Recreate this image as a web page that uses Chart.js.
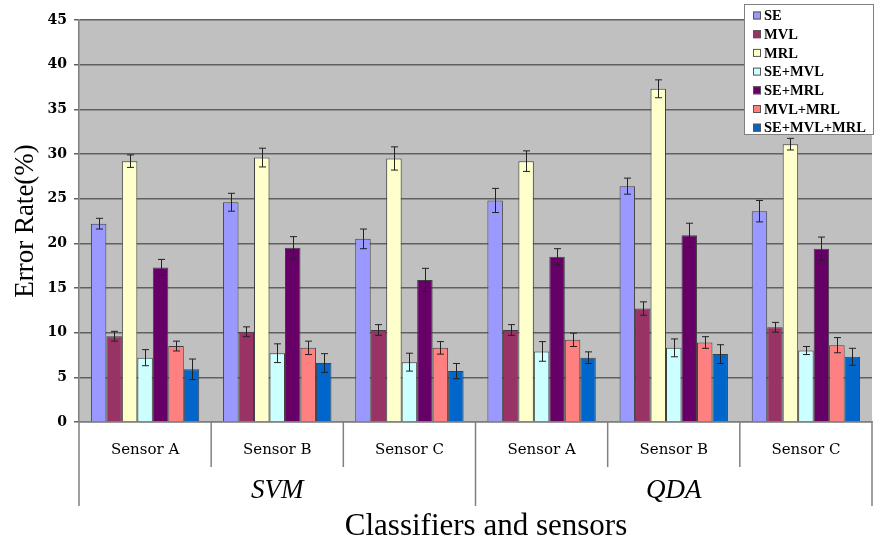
<!DOCTYPE html>
<html>
<head>
<meta charset="utf-8">
<script src="https://cdn.jsdelivr.net/npm/chart.js@4.4.1/dist/chart.umd.min.js"></script>
<style>
  html, body { margin: 0; padding: 0; background: #fff; }
  #wrap { width: 875px; height: 543px; }
</style>
</head>
<body>
<div id="wrap"><canvas id="errChart" width="875" height="543"></canvas></div>
<script>
const sensors = ['Sensor A', 'Sensor B', 'Sensor C', 'Sensor A', 'Sensor B', 'Sensor C'];
const classifiers = ['SVM', 'QDA'];
const yTicks = [0, 5, 10, 15, 20, 25, 30, 35, 40, 45];

const featureSets = ['SE', 'MVL', 'MRL', 'SE+MVL', 'SE+MRL', 'MVL+MRL', 'SE+MVL+MRL'];
const colors = ['#9999FF', '#993366', '#FFFFCC', '#CCFFFF', '#660066', '#FF8080', '#0066CC'];

const seRate        = [22.2, 24.6, 20.5, 24.8, 26.4, 23.6];
const mvlRate       = [9.6, 10.1, 10.3, 10.3, 12.7, 10.6];
const mrlRate       = [29.2, 29.6, 29.5, 29.2, 37.3, 31.1];
const seMvlRate     = [7.2, 7.7, 6.7, 7.9, 8.3, 8.0];
const seMrlRate     = [17.3, 19.5, 15.9, 18.5, 20.9, 19.4];
const mvlMrlRate    = [8.5, 8.3, 8.3, 9.2, 8.9, 8.6];
const seMvlMrlRate  = [5.9, 6.6, 5.7, 7.2, 7.6, 7.3];

// half-length of each error bar
const seErr        = [0.6, 1.0, 1.1, 1.35, 0.9, 1.2];
const mvlErr       = [0.55, 0.55, 0.6, 0.6, 0.75, 0.55];
const mrlErr       = [0.7, 1.05, 1.3, 1.15, 1.0, 0.65];
const seMvlErr     = [0.9, 1.05, 1.0, 1.1, 1.0, 0.45];
const seMrlErr     = [0.9, 1.25, 1.3, 0.9, 1.35, 1.3];
const mvlMrlErr    = [0.55, 0.75, 0.7, 0.75, 0.65, 0.85];
const seMvlMrlErr  = [1.15, 1.05, 0.85, 0.65, 1.05, 0.95];

const rates = [seRate, mvlRate, mrlRate, seMvlRate, seMrlRate, mvlMrlRate, seMvlMrlRate];
const errors = [seErr, mvlErr, mrlErr, seMvlErr, seMrlErr, mvlMrlErr, seMvlMrlErr];

const AXIS_GRAY = '#808080';

const plotBackground = {
  id: 'plotBackground',
  beforeDraw(chart) {
    const { ctx, chartArea: a } = chart;
    ctx.save();
    ctx.fillStyle = '#fff';
    ctx.fillRect(0, 0, chart.width, chart.height);
    ctx.fillStyle = '#C0C0C0';
    ctx.fillRect(a.left, a.top, a.right - a.left, a.bottom - a.top);
    ctx.restore();
  }
};

const errorBars = {
  id: 'errorBars',
  afterDatasetsDraw(chart) {
    const { ctx } = chart;
    const y = chart.scales.y;
    ctx.save();
    ctx.strokeStyle = '#222';
    ctx.lineWidth = 1;
    chart.data.datasets.forEach((ds, di) => {
      const meta = chart.getDatasetMeta(di);
      meta.data.forEach((bar, i) => {
        const v = ds.data[i], e = errors[di][i];
        const x = Math.round(bar.x) + 0.5;
        const yHi = y.getPixelForValue(v + e);
        const yLo = y.getPixelForValue(v - e);
        ctx.beginPath();
        ctx.moveTo(x, yHi); ctx.lineTo(x, yLo);
        ctx.moveTo(x - 3.5, yHi); ctx.lineTo(x + 3.5, yHi);
        ctx.moveTo(x - 3.5, yLo); ctx.lineTo(x + 3.5, yLo);
        ctx.stroke();
      });
    });
    ctx.restore();
  }
};

// two-level category axis, axis titles and the boxed legend
const decorations = {
  id: 'decorations',
  afterDraw(chart) {
    const { ctx, chartArea: a } = chart;
    const x = chart.scales.x;
    const step = (a.right - a.left) / sensors.length;
    ctx.save();

    ctx.strokeStyle = AXIS_GRAY;
    ctx.lineWidth = 1.5;
    for (let i = 0; i <= sensors.length; i++) {
      const px = a.left + i * step;
      const long = i % 3 === 0;
      ctx.beginPath();
      ctx.moveTo(px, a.bottom);
      ctx.lineTo(px, long ? 506 : 467);
      ctx.stroke();
    }

    ctx.fillStyle = '#000';
    ctx.textAlign = 'center';
    ctx.textBaseline = 'middle';
    ctx.font = '15px "DejaVu Serif"';
    sensors.forEach((s, i) => ctx.fillText(s, x.getPixelForValue(i), 450));

    ctx.font = 'italic 27px "Liberation Serif"';
    classifiers.forEach((c, k) => {
      const mid = a.left + (k * 3 + 1.5) * step;
      ctx.fillText(c, mid, 491);
    });

    ctx.font = '31px "Liberation Serif"';
    ctx.textBaseline = 'alphabetic';
    ctx.fillText('Classifiers and sensors', 486, 535);

    ctx.save();
    ctx.translate(33, 221);
    ctx.rotate(-Math.PI / 2);
    ctx.font = '27px "Liberation Serif"';
    ctx.fillText('Error Rate(%)', 0, 0);
    ctx.restore();

    // legend box
    const lx = 744, ly = 4, lw = 130, lh = 131;
    ctx.fillStyle = '#fff';
    ctx.fillRect(lx, ly, lw, lh);
    ctx.strokeStyle = AXIS_GRAY;
    ctx.lineWidth = 1;
    ctx.strokeRect(lx + 0.5, ly + 0.5, lw - 1, lh - 1);
    ctx.font = 'bold 14.5px "Liberation Serif"';
    ctx.textAlign = 'left';
    ctx.textBaseline = 'middle';
    featureSets.forEach((name, i) => {
      const cy = 15.5 + i * 18.7;
      ctx.fillStyle = colors[i];
      ctx.fillRect(753, cy - 4, 8, 8);
      ctx.strokeStyle = '#555';
      ctx.strokeRect(753.5, cy - 3.5, 7, 7);
      ctx.fillStyle = '#000';
      ctx.fillText(name, 764, cy + 1);
    });
    ctx.restore();
  }
};

new Chart(document.getElementById('errChart').getContext('2d'), {
  type: 'bar',
  data: {
    labels: sensors,
    datasets: featureSets.map((name, i) => ({
      label: name,
      data: rates[i],
      backgroundColor: colors[i],
      borderColor: '#404040',
      borderWidth: 1,
      barPercentage: 1,
      categoryPercentage: 0.82
    }))
  },
  options: {
    responsive: false,
    animation: false,
    layout: { padding: { top: 20, right: 3, left: 0, bottom: 0 } },
    plugins: {
      legend: { display: false },
      tooltip: { enabled: false }
    },
    scales: {
      x: {
        ticks: { display: false },
        grid: { display: false },
        border: { display: true, color: AXIS_GRAY, width: 1.5 },
        afterFit: (s) => { s.height = 121; }
      },
      y: {
        min: 0,
        max: 45,
        afterBuildTicks: (s) => { s.ticks = yTicks.map(v => ({ value: v })); },
        ticks: {
          color: '#000',
          padding: 7,
          font: { family: 'DejaVu Serif', size: 14, weight: 'bold' }
        },
        grid: { color: '#606060', lineWidth: 1.5, tickLength: 5 },
        border: { display: true, color: AXIS_GRAY, width: 1.5 },
        afterFit: (s) => { s.width = 79; }
      }
    }
  },
  plugins: [plotBackground, errorBars, decorations]
});
</script>
</body>
</html>
